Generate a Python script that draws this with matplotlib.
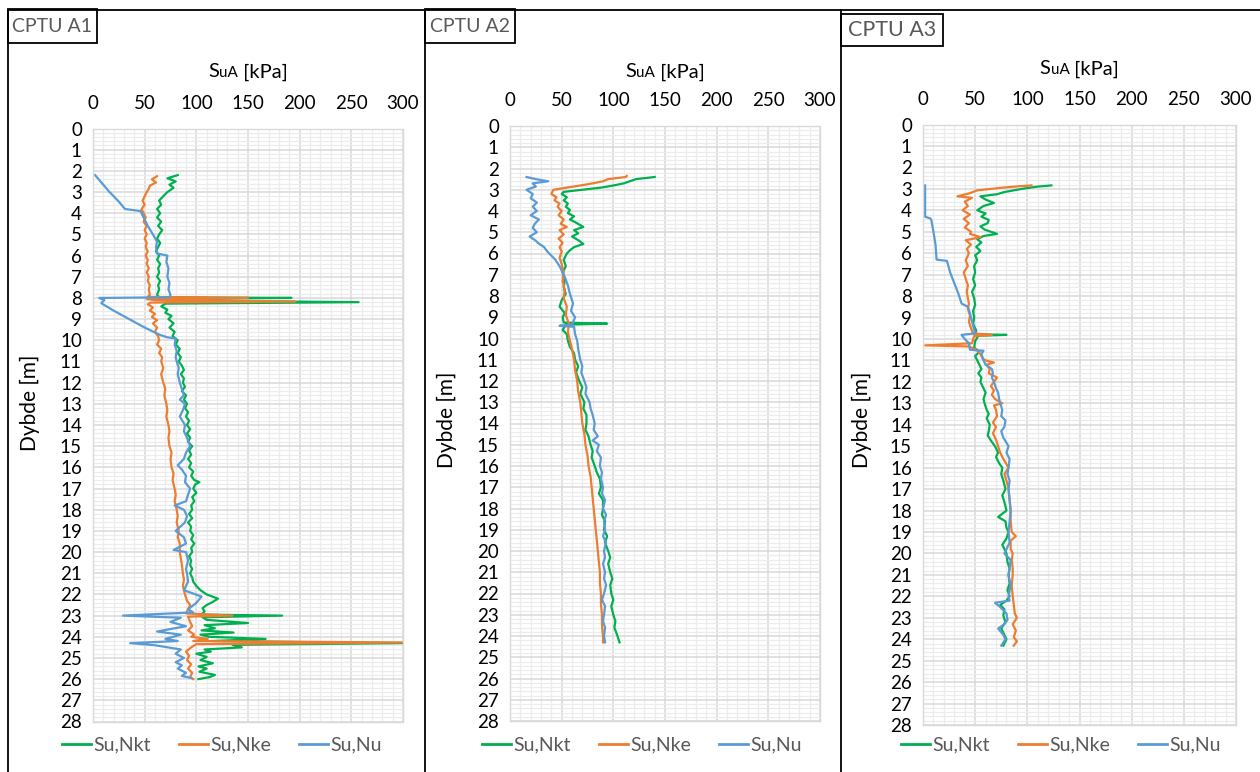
import matplotlib
matplotlib.use("Agg")
import matplotlib.pyplot as plt
from matplotlib.lines import Line2D
from matplotlib.patches import Rectangle
from matplotlib.offsetbox import TextArea, HPacker, AnnotationBbox
from matplotlib.ticker import MultipleLocator

plt.rcParams['font.family'] = ['Lato', 'DejaVu Sans']

# ---------------- data ----------------
panel_titles = ["CPTU A1", "CPTU A2", "CPTU A3"]
series_names = ["Su,Nkt", "Su,Nke", "Su,Nu"]
x_ticks = [0, 50, 100, 150, 200, 250, 300]
y_ticks = list(range(0, 29))

# CPTU A1
a1_nkt_d = [2.2, 2.35, 2.5, 2.65, 2.8, 3.0, 3.2, 3.4, 3.6, 3.8, 4.0, 4.2, 4.4, 4.6, 4.8, 5.0, 5.2, 5.4, 5.6, 5.8,
            6.0, 6.2, 6.4, 6.6, 6.8, 7.0, 7.2, 7.4, 7.6, 7.85, 7.97, 8.0, 8.05, 8.12, 8.2, 8.27, 8.4, 8.55, 8.7, 8.85,
            9.0, 9.2, 9.4, 9.6, 9.8, 10.0, 10.2, 10.4, 10.6, 10.8, 11.0, 11.2, 11.4, 11.6, 11.8, 12.0, 12.2, 12.4, 12.6, 12.8,
            13.0, 13.2, 13.4, 13.6, 13.8, 14.0, 14.2, 14.4, 14.6, 14.8, 15.0, 15.2, 15.4, 15.6, 15.8, 16.0, 16.2, 16.4, 16.6, 16.7,
            16.8, 17.0, 17.2, 17.4, 17.6, 17.8, 18.0, 18.2, 18.4, 18.6, 18.8, 19.0, 19.2, 19.4, 19.6, 19.8, 20.0, 20.2, 20.4, 20.6,
            20.8, 21.0, 21.2, 21.4, 21.6, 21.8, 22.0, 22.2, 22.35, 22.5, 22.65, 22.8, 22.95, 23.0, 23.08, 23.2, 23.35, 23.45, 23.6, 23.7,
            23.8, 23.9, 24.0, 24.1, 24.2, 24.3, 24.38, 24.5, 24.6, 24.7, 24.8, 24.95, 25.1, 25.25, 25.4, 25.5, 25.65, 25.8, 25.9, 26.0]
a1_nkt_v = [82, 72, 80, 74, 78, 72, 68, 64, 66, 62, 65, 62, 66, 63, 67, 64, 62, 65, 63, 61,
            64, 62, 65, 63, 64, 62, 65, 63, 64, 62, 64, 192, 70, 72, 257, 70, 66, 72, 70, 76,
            73, 78, 74, 79, 77, 82, 80, 84, 82, 85, 83, 86, 88, 85, 88, 87, 89, 86, 90, 88,
            91, 89, 92, 90, 93, 91, 94, 91, 94, 92, 96, 93, 95, 92, 95, 93, 97, 95, 98, 103,
            99, 97, 100, 96, 98, 95, 96, 93, 96, 92, 95, 94, 97, 95, 98, 95, 96, 93, 95, 94,
            96, 94, 96, 97, 100, 104, 110, 121, 116, 110, 106, 108, 105, 183, 106, 110, 150, 108, 118, 105,
            136, 104, 112, 167, 115, 300, 135, 144, 108, 114, 100, 110, 104, 116, 102, 110, 103, 118, 113, 102]

a1_nke_d = [2.25, 2.4, 2.55, 2.7, 2.85, 3.0, 3.2, 3.4, 3.6, 3.8, 4.0, 4.2, 4.4, 4.6, 4.8, 5.0, 5.2, 5.4, 5.6, 5.8,
            6.0, 6.2, 6.4, 6.6, 6.8, 7.0, 7.2, 7.4, 7.6, 7.85, 7.95, 8.0, 8.05, 8.1, 8.17, 8.22, 8.3, 8.45, 8.6, 8.75,
            8.9, 9.05, 9.2, 9.4, 9.6, 9.8, 10.0, 10.2, 10.4, 10.6, 10.8, 11.0, 11.3, 11.6, 12.0, 12.3, 12.6, 13.0, 13.3, 13.6,
            14.0, 14.3, 14.6, 15.0, 15.3, 15.6, 16.0, 16.3, 16.6, 17.0, 17.3, 17.6, 18.0, 18.3, 18.6, 19.0, 19.3, 19.6, 20.0, 20.3,
            20.6, 21.0, 21.3, 21.6, 22.0, 22.3, 22.5, 22.7, 22.9, 23.0, 23.05, 23.3, 23.5, 23.7, 23.9, 24.0, 24.1, 24.2, 24.27, 24.35,
            24.5, 24.7, 24.9, 25.1, 25.3, 25.5, 25.7, 25.9, 26.0]
a1_nke_v = [62, 57, 61, 55, 54, 52, 50, 48, 50, 47, 49, 51, 49, 52, 50, 52, 50, 52, 51, 53,
            51, 53, 52, 54, 52, 54, 53, 55, 54, 55, 53, 150, 52, 60, 196, 56, 53, 58, 55, 60,
            57, 62, 58, 62, 60, 63, 64, 62, 66, 64, 67, 66, 68, 66, 68, 70, 69, 71, 72, 71,
            73, 74, 73, 74, 76, 75, 76, 78, 77, 79, 80, 79, 81, 82, 81, 83, 82, 84, 84, 85,
            86, 87, 88, 87, 89, 91, 94, 92, 90, 135, 92, 94, 96, 92, 98, 95, 111, 97, 300, 100,
            95, 90, 93, 91, 95, 92, 96, 94, 97]

a1_nu_d = [2.2, 2.6, 3.0, 3.4, 3.8, 3.9, 4.2, 4.6, 5.0, 5.35, 5.6, 5.9, 6.0, 6.3, 6.6, 7.0, 7.3, 7.6, 7.85, 7.97,
           8.0, 8.1, 8.25, 8.6, 9.0, 9.4, 9.75, 9.86, 9.92, 10.2, 10.5, 10.8, 11.0, 11.3, 11.6, 12.0, 12.3, 12.6, 12.8, 13.0,
           13.3, 13.6, 14.0, 14.3, 14.6, 15.0, 15.3, 15.6, 15.9, 16.1, 16.4, 16.7, 17.0, 17.3, 17.6, 17.8, 18.0, 18.3, 18.6, 19.0,
           19.3, 19.6, 19.9, 20.0, 20.4, 20.8, 21.0, 21.4, 21.8, 22.1, 22.4, 22.7, 22.85, 23.0, 23.1, 23.3, 23.5, 23.75, 23.9, 24.1,
           24.2, 24.3, 24.4, 24.6, 24.8, 25.0, 25.2, 25.35, 25.5, 25.7, 25.85, 25.95]
a1_nu_v = [2, 9, 16, 24, 31, 46, 49, 53, 58, 62, 61, 62, 72, 71, 73, 72, 74, 73, 75, 74,
           6, 11, 8, 20, 35, 50, 65, 72, 80, 79, 81, 80, 81, 83, 82, 84, 86, 88, 84, 89,
           87, 84, 89, 88, 91, 94, 90, 88, 82, 86, 90, 89, 94, 92, 90, 79, 88, 91, 89, 80,
           88, 90, 78, 90, 92, 90, 91, 92, 88, 105, 100, 92, 97, 29, 85, 75, 90, 62, 85, 70,
           82, 36, 60, 85, 80, 88, 80, 86, 82, 90, 86, 95]

# CPTU A2
a2_nkt_d = [2.4, 2.5, 2.6, 2.7, 2.8, 2.9, 3.0, 3.1, 3.2, 3.35, 3.5, 3.65, 3.8, 3.95, 4.1, 4.25, 4.4, 4.55, 4.75, 4.9,
            5.05, 5.2, 5.4, 5.55, 5.7, 5.85, 6.0, 6.3, 6.6, 6.9, 7.25, 7.6, 7.9, 8.2, 8.5, 8.8, 9.0, 9.25, 9.3, 9.35,
            9.6, 9.8, 10.1, 10.4, 10.7, 11.0, 11.3, 11.6, 12.0, 12.3, 12.6, 13.0, 13.3, 13.6, 14.0, 14.3, 14.6, 15.0, 15.3, 15.6,
            16.0, 16.3, 16.6, 17.0, 17.3, 17.6, 18.0, 18.3, 18.6, 19.0, 19.3, 19.6, 20.0, 20.3, 20.6, 21.0, 21.3, 21.6, 22.0, 22.3,
            22.6, 23.0, 23.3, 23.6, 24.0, 24.3]
a2_nkt_v = [140, 122, 116, 110, 100, 88, 70, 52, 50, 55, 52, 56, 54, 58, 56, 62, 58, 64, 71, 62,
            66, 60, 67, 71, 62, 58, 55, 52, 54, 51, 53, 52, 54, 50, 48, 53, 51, 52, 94, 54,
            51, 55, 56, 58, 62, 63, 66, 64, 67, 70, 68, 72, 71, 74, 74, 73, 76, 78, 80, 79,
            82, 84, 87, 88, 86, 90, 90, 89, 92, 91, 94, 92, 95, 97, 95, 97, 99, 97, 98, 100,
            98, 100, 102, 101, 104, 106]

a2_nke_d = [2.35, 2.4, 2.5, 2.6, 2.7, 2.8, 2.9, 3.0, 3.2, 3.35, 3.5, 3.65, 3.8, 4.0, 4.2, 4.4, 4.6, 4.75, 4.9, 5.1,
            5.3, 5.5, 5.7, 5.9, 6.2, 6.5, 6.9, 7.3, 7.7, 8.1, 8.5, 8.9, 9.3, 9.7, 10.1, 10.5, 11.0, 11.5, 12.0, 12.5,
            13.0, 13.5, 14.0, 14.5, 15.0, 15.5, 16.0, 16.5, 17.0, 17.5, 18.0, 18.5, 19.0, 19.5, 20.0, 20.5, 21.0, 21.5, 22.0, 22.5,
            23.0, 23.5, 24.0, 24.3]
a2_nke_v = [113, 112, 95, 90, 80, 68, 55, 42, 40, 45, 43, 48, 46, 50, 47, 52, 49, 55, 48, 52,
            47, 51, 48, 50, 48, 50, 52, 51, 53, 52, 55, 54, 57, 56, 58, 60, 62, 63, 65, 66,
            68, 69, 70, 72, 73, 75, 76, 78, 79, 80, 81, 82, 83, 84, 85, 86, 87, 87, 88, 88,
            89, 89, 90, 90]

a2_nu_d = [2.4, 2.5, 2.6, 2.7, 2.85, 3.0, 3.2, 3.4, 3.6, 3.8, 4.0, 4.2, 4.4, 4.6, 4.8, 5.0, 5.2, 5.4, 5.5, 5.7,
           5.9, 6.1, 6.3, 6.6, 6.9, 7.1, 7.5, 7.9, 8.35, 8.7, 9.0, 9.35, 9.4, 9.45, 9.8, 10.1, 10.5, 11.0, 11.3, 11.6,
           12.0, 12.3, 12.6, 13.0, 13.3, 13.6, 14.0, 14.3, 14.6, 14.8, 15.0, 15.3, 15.6, 16.0, 16.3, 16.6, 17.0, 17.3, 17.6, 18.0,
           18.3, 18.6, 19.0, 19.3, 19.6, 20.0, 20.3, 20.6, 21.0, 21.3, 21.6, 22.0, 22.3, 22.6, 23.0, 23.3, 23.6, 24.0, 24.3]
a2_nu_v = [16, 25, 37, 22, 25, 16, 22, 20, 26, 22, 26, 20, 28, 24, 22, 26, 19, 25, 27, 33,
           36, 40, 44, 48, 51, 53, 56, 58, 61, 59, 63, 60, 48, 62, 63, 65, 66, 68, 70, 69,
           72, 74, 73, 77, 78, 80, 82, 81, 85, 80, 86, 84, 88, 87, 89, 88, 90, 89, 92, 90,
           93, 91, 92, 90, 93, 91, 92, 90, 92, 91, 93, 91, 89, 92, 91, 90, 92, 91, 92]

# CPTU A3
a3_nkt_d = [2.84, 2.9, 3.0, 3.07, 3.15, 3.25, 3.35, 3.5, 3.66, 3.8, 4.0, 4.15, 4.3, 4.45, 4.6, 4.75, 4.9, 5.1, 5.2, 5.35,
            5.5, 5.7, 5.9, 6.1, 6.33, 6.6, 6.9, 7.2, 7.5, 7.8, 8.1, 8.4, 8.7, 9.0, 9.3, 9.6, 9.78, 9.81, 9.85, 10.1,
            10.4, 10.6, 10.8, 11.0, 11.2, 11.4, 11.6, 11.8, 12.0, 12.2, 12.5, 12.8, 13.0, 13.3, 13.5, 13.7, 14.0, 14.3, 14.5, 14.8,
            15.0, 15.3, 15.5, 15.8, 16.0, 16.3, 16.6, 17.0, 17.3, 17.6, 18.0, 18.3, 18.5, 18.8, 19.0, 19.3, 19.6, 20.0, 20.4, 20.7,
            21.0, 21.4, 21.7, 22.0, 22.2, 22.4, 22.6, 22.9, 23.2, 23.5, 23.7, 24.0, 24.3]
a3_nkt_v = [123, 109, 95, 87, 78, 71, 55, 60, 68, 58, 52, 60, 56, 63, 62, 55, 59, 71, 58, 52,
            56, 51, 55, 50, 52, 49, 50, 48, 50, 47, 49, 50, 48, 49, 48, 51, 50, 80, 53, 50,
            49, 54, 50, 52, 54, 56, 53, 56, 55, 57, 60, 58, 59, 61, 63, 61, 64, 63, 62, 66,
            69, 72, 70, 73, 76, 75, 77, 79, 76, 78, 80, 72, 79, 80, 82, 80, 76, 80, 81, 83,
            82, 83, 81, 83, 80, 74, 78, 77, 79, 75, 77, 80, 77]

a3_nke_d = [2.84, 2.88, 2.95, 3.07, 3.2, 3.35, 3.42, 3.6, 3.8, 4.0, 4.2, 4.4, 4.6, 4.8, 5.0, 5.1, 5.25, 5.4, 5.6, 5.8,
            6.0, 6.33, 6.6, 6.9, 7.2, 7.5, 7.8, 8.1, 8.35, 8.6, 8.9, 9.2, 9.5, 9.74, 9.81, 9.86, 10.2, 10.3, 10.35, 10.5,
            10.7, 10.9, 11.0, 11.1, 11.2, 11.4, 11.6, 11.8, 12.0, 12.2, 12.4, 12.6, 12.8, 13.0, 13.1, 13.3, 13.6, 13.9, 14.1, 14.4,
            14.7, 15.0, 15.3, 15.6, 16.0, 16.3, 16.6, 17.0, 17.5, 18.0, 18.5, 19.0, 19.2, 19.4, 19.8, 20.0, 20.3, 20.7, 21.0, 21.5,
            22.0, 22.4, 22.8, 23.0, 23.3, 23.6, 23.9, 24.1, 24.3]
a3_nke_v = [104, 92, 75, 52, 45, 33, 47, 40, 43, 38, 45, 39, 44, 40, 46, 45, 55, 41, 46, 42,
            44, 41, 43, 39, 41, 43, 42, 43, 44, 43, 45, 44, 46, 48, 66, 49, 47, 2, 44, 51,
            55, 57, 60, 68, 61, 64, 63, 71, 68, 65, 68, 66, 69, 76, 68, 70, 71, 67, 70, 67,
            70, 72, 74, 77, 82, 78, 80, 82, 83, 84, 84, 85, 89, 84, 84, 86, 85, 86, 86, 85,
            86, 87, 88, 90, 86, 89, 87, 90, 87]

a3_nu_d = [2.84, 3.5, 4.3, 4.38, 4.45, 5.0, 5.6, 6.3, 6.36, 6.9, 7.4, 7.9, 8.35, 8.5, 8.8, 9.2, 9.74, 9.81, 10.0, 10.2,
           10.5, 10.55, 10.7, 11.0, 11.2, 11.4, 11.6, 11.8, 12.0, 12.3, 12.5, 12.8, 13.0, 13.3, 13.6, 13.8, 14.1, 14.3, 14.6, 15.0,
           15.3, 15.6, 16.0, 16.3, 16.6, 17.0, 17.5, 18.0, 18.5, 19.0, 19.5, 19.8, 20.0, 20.3, 20.7, 21.0, 21.5, 22.0, 22.2, 22.3,
           22.5, 22.8, 23.1, 23.3, 23.5, 23.8, 24.0, 24.3]
a3_nu_v = [2, 2, 2, 7, 8, 10, 12, 13, 23, 26, 30, 34, 37, 43, 45, 47, 50, 37, 40, 44,
           45, 58, 56, 58, 60, 66, 67, 66, 68, 70, 72, 73, 74, 76, 75, 79, 78, 75, 77, 82,
           80, 83, 82, 81, 83, 82, 83, 84, 83, 82, 83, 80, 78, 84, 83, 82, 84, 82, 83, 69,
           74, 80, 81, 78, 72, 77, 79, 75]

panels = [
    [(a1_nkt_d, a1_nkt_v), (a1_nke_d, a1_nke_v), (a1_nu_d, a1_nu_v)],
    [(a2_nkt_d, a2_nkt_v), (a2_nke_d, a2_nke_v), (a2_nu_d, a2_nu_v)],
    [(a3_nkt_d, a3_nkt_v), (a3_nke_d, a3_nke_v), (a3_nu_d, a3_nu_v)],
]

# ---------------- style / layout ----------------
colors = ["#00B050", "#ED7D31", "#5B9BD5"]
W, H = 1260, 772
fig = plt.figure(figsize=(W / 100, H / 100), dpi=100)

def fbox(x0, y0, x1, y1):
    return [x0 / W, 1 - y1 / H, (x1 - x0) / W, (y1 - y0) / H]

axes_px = [(93, 128.5, 403, 721.5), (510, 126, 820, 721), (923, 124.5, 1236, 725)]
chart_px = [(8, 425), (425, 841), (841, 1260)]
label_y = [72, 72, 69]
title_boxes = [(8, 9.5, 97, 43, 14), (425, 9.5, 515, 43, 14), (841, 14, 943, 46, 15.5)]
ylabel_x = [30, 447, 862]
ylabel_y = [403, 420, 420]
legend_cx = [222, 642, 1061]

fig.add_artist(Line2D([8 / W, 1], [1 - 9.5 / H, 1 - 9.5 / H], color="black", lw=1.3, transform=fig.transFigure))
for xv in (8, 425, 841):
    fig.add_artist(Line2D([xv / W, xv / W], [0, 1 - 9.5 / H], color="black", lw=1.3, transform=fig.transFigure))

for i in range(3):
    x0, y0, x1, y1 = axes_px[i]
    ax = fig.add_axes(fbox(x0, y0, x1, y1))
    ax.set_xlim(0, 300)
    ax.set_ylim(28, 0)
    ax.set_xticks(x_ticks)
    ax.xaxis.set_minor_locator(MultipleLocator(10))
    ax.set_yticks(y_ticks)
    ax.yaxis.set_minor_locator(MultipleLocator(0.2))
    ax.xaxis.tick_top()
    ax.tick_params(axis="both", which="both", length=0)
    ax.tick_params(axis="x", which="major", pad=12, labelsize=13.5)
    ax.tick_params(axis="y", which="major", pad=8, labelsize=13.5)
    ax.grid(which="major", color="#d9d9d9", lw=1.1)
    ax.grid(which="minor", color="#ececec", lw=0.9)
    ax.set_axisbelow(True)
    for s in ax.spines.values():
        s.set_color("#d9d9d9")
        s.set_linewidth(1.0)

    handles = []
    for (d, v), c, name in zip(panels[i], colors, series_names):
        h, = ax.plot(v, d, color=c, lw=1.6, label=name)
        handles.append(h)

    fig.text(ylabel_x[i] / W, 1 - ylabel_y[i] / H, "Dybde [m]", rotation=90,
             ha="center", va="center", fontsize=15)

    pk = HPacker(children=[TextArea("S", textprops=dict(fontsize=14.5)),
                           TextArea("uA", textprops=dict(fontsize=11)),
                           TextArea(" [kPa]", textprops=dict(fontsize=14.5))],
                 align="baseline", pad=0, sep=0)
    ab = AnnotationBbox(pk, ((x0 + x1) / 2 / W, 1 - label_y[i] / H), xycoords="figure fraction",
                        box_alignment=(0.5, 0.5), frameon=False, pad=0)
    fig.add_artist(ab)

    bx0, by0, bx1, by1, fs = title_boxes[i]
    fig.add_artist(Rectangle((bx0 / W, 1 - by1 / H), (bx1 - bx0) / W, (by1 - by0) / H,
                             transform=fig.transFigure, facecolor="white", edgecolor="black", lw=1.3))
    fig.text((bx0 + bx1) / 2 / W, 1 - (by0 + by1) / 2 / H, panel_titles[i], ha="center", va="center",
             fontsize=fs, color="#595959")

    leg = fig.legend(handles=handles, loc="center", bbox_to_anchor=(legend_cx[i] / W, 1 - 745 / H),
                     ncol=3, frameon=False, fontsize=14, handlelength=1.5, handletextpad=0.15,
                     columnspacing=1.4, labelcolor="#595959")
    for lh in leg.get_lines():
        lh.set_linewidth(2.0)

fig.savefig("out.png", dpi=100)
